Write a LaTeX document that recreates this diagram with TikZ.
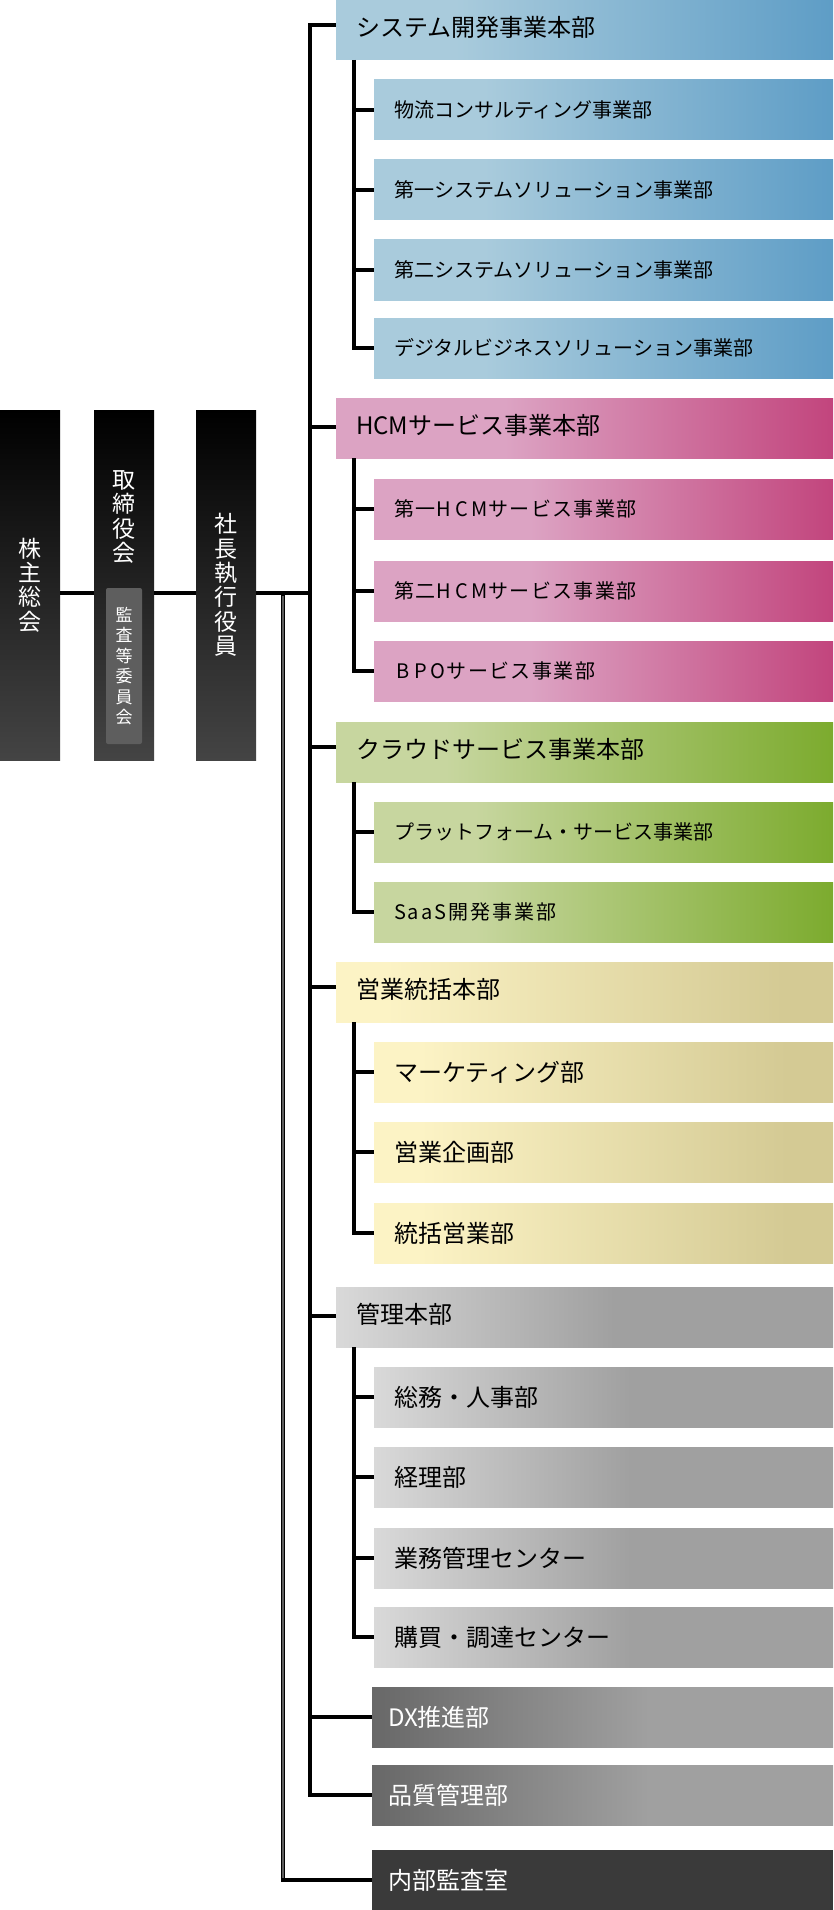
\documentclass[tikz,border=0pt]{standalone}
\usepackage{fontspec}
\setmainfont{Noto Sans CJK JP}
\usetikzlibrary{calc}

\definecolor{blueL}{HTML}{A9CBDC}
\definecolor{blueR}{HTML}{5E9DC6}
\definecolor{pinkL}{HTML}{DCA3C3}
\definecolor{pinkR}{HTML}{C2457D}
\definecolor{greenL}{HTML}{C7D69F}
\definecolor{greenR}{HTML}{7CAB2E}
\definecolor{yellowL}{HTML}{FCF3C5}
\definecolor{yellowR}{HTML}{D4CA94}
\definecolor{grayL}{HTML}{D9D9D9}
\definecolor{grayR}{HTML}{A0A0A0}
\definecolor{dxL}{HTML}{686868}
\definecolor{dxR}{HTML}{A0A0A0}
\definecolor{naibuC}{HTML}{3A3A3A}
\definecolor{leftBot}{HTML}{444444}
\definecolor{kansaC}{HTML}{5E5E5E}
\definecolor{outerMid}{HTML}{5C5C5C}

\pgfdeclarehorizontalshading{shblue}{100bp}{color(0bp)=(blueL); color(37bp)=(blueL); color(75bp)=(blueR); color(100bp)=(blueR)}
\pgfdeclarehorizontalshading{shpink}{100bp}{color(0bp)=(pinkL); color(42bp)=(pinkL); color(75bp)=(pinkR); color(100bp)=(pinkR)}
\pgfdeclarehorizontalshading{shgreen}{100bp}{color(0bp)=(greenL); color(36bp)=(greenL); color(75bp)=(greenR); color(100bp)=(greenR)}
\pgfdeclarehorizontalshading{shyellow}{100bp}{color(0bp)=(yellowL); color(30bp)=(yellowL); color(70bp)=(yellowR); color(100bp)=(yellowR)}
\pgfdeclarehorizontalshading{shgray}{100bp}{color(0bp)=(grayL); color(25bp)=(grayL); color(53bp)=(grayR); color(100bp)=(grayR)}
\pgfdeclarehorizontalshading{shdx}{100bp}{color(0bp)=(dxL); color(25bp)=(dxL); color(55bp)=(dxR); color(100bp)=(dxR)}

\newcommand\fwl[1]{\makebox[0.88em]{#1}}

\tikzset{
  box/.style={anchor=north west, minimum height=60pt, inner ysep=0pt,
    inner xsep=20pt, align=left, outer sep=0pt},
  hqbox/.style={box, minimum width=497pt, text width=457pt,
    font=\fontsize{24}{28}\selectfont, text height=18pt, text depth=5.8pt},
  subbox/.style={box, minimum width=459pt, text width=419pt,
    font=\fontsize{20}{24}\selectfont, text height=17pt, text depth=1.8pt},
  subbig/.style={box, minimum width=459pt, text width=419pt,
    font=\fontsize{24}{28}\selectfont, text height=20pt, text depth=1.8pt},
  solobox/.style={box, minimum width=461pt, text width=429pt, inner xsep=16pt,
    font=\fontsize{24}{28}\selectfont, text height=20pt, text depth=1.8pt, text=white},
  leftbox/.style={minimum width=60pt, minimum height=350pt, inner sep=0pt,
    top color=black, bottom color=leftBot, text=white, align=center,
    font=\fontsize{23}{24.3}\selectfont},
  conn/.style={line width=3.5pt, black},
}

\begin{document}
\begin{tikzpicture}[x=1pt, y=-1pt]
\useasboundingbox (0,0) rectangle (833,1910);
\fill[white] (0,0) rectangle (833,1910);

% left column
\node[leftbox] (kabu) at (30,585) {株\\主\\総\\会};
\node[leftbox] (tori) at (124,585) {};
\node[text=white, align=center, inner sep=0pt, font=\fontsize{23}{24.3}\selectfont] (toriT) at (124,517) {取\\締\\役\\会};
\node[fill=kansaC, rounded corners=2pt, minimum width=36pt, minimum height=156pt, inner sep=0pt,
  text=white, align=center, font=\fontsize{17}{20.4}\selectfont] (kansa) at (124,666) {監\\査\\等\\委\\員\\会};
\node[leftbox] (pres) at (226,585) {社\\長\\執\\行\\役\\員};

% system group
\node[hqbox, shading=shblue] (sys) at (336,0) {システム開発事業本部};
\node[subbox, shading=shblue] (sys1) at (374,80) {物流コンサルティング事業部};
\node[subbox, shading=shblue] (sys2) at (374,160) {第一システムソリューション事業部};
\node[subbox, shading=shblue] (sys3) at (374,240) {第二システムソリューション事業部};
\node[subbox, shading=shblue] (sys4) at (374,318) {デジタルビジネスソリューション事業部};

% HCM group
\node[hqbox, shading=shpink] (hcm) at (336,398) {HCMサービス事業本部};
\node[subbox, shading=shpink] (hcm1) at (374,479) {\addfontfeature{LetterSpace=7}第一\fwl{H}\fwl{C}\fwl{M}サービス事業部};
\node[subbox, shading=shpink] (hcm2) at (374,561) {\addfontfeature{LetterSpace=7}第二\fwl{H}\fwl{C}\fwl{M}サービス事業部};
\node[subbox, shading=shpink] (hcm3) at (374,641) {\addfontfeature{LetterSpace=7}\fwl{B}\fwl{P}\fwl{O}サービス事業部};

% cloud group
\node[hqbox, shading=shgreen] (cld) at (336,722) {クラウドサービス事業本部};
\node[subbox, shading=shgreen] (cld1) at (374,802) {プラットフォーム・サービス事業部};
\node[subbox, shading=shgreen] (cld2) at (374,882) {\addfontfeature{LetterSpace=10}SaaS開発事業部};

% sales group
\node[hqbox, shading=shyellow] (eig) at (336,962) {営業統括本部};
\node[subbig, shading=shyellow] (eig1) at (374,1042) {マーケティング部};
\node[subbig, shading=shyellow] (eig2) at (374,1122) {営業企画部};
\node[subbig, shading=shyellow] (eig3) at (374,1203) {統括営業部};

% admin group
\node[hqbox, shading=shgray] (kan) at (336,1287) {管理本部};
\node[subbig, shading=shgray] (kan1) at (374,1367) {総務・人事部};
\node[subbig, shading=shgray] (kan2) at (374,1447) {経理部};
\node[subbig, shading=shgray] (kan3) at (374,1528) {業務管理センター};
\node[subbig, shading=shgray] (kan4) at (374,1607) {購買・調達センター};

% standalone departments
\node[solobox, shading=shdx] (dx) at (372,1687) {DX推進部};
\node[solobox, shading=shdx] (qa) at (372,1765) {品質管理部};
\node[solobox, fill=naibuC] (naibu) at (372,1850) {内部監査室};

% junction points
\coordinate (sj) at (310,593);
\coordinate (aj) at (283,593);

% top row
\draw[conn] ([yshift=-8pt]kabu.east) -- ([yshift=-8pt]tori.west);
\draw[conn] ([yshift=-8pt]tori.east) -- ([yshift=-8pt]pres.west);
\draw[conn] ([yshift=-8pt]pres.east) -- (sj);

% audit line
\draw[line width=4pt, black] (aj) |- (naibu.west);
\draw[line width=1.2pt, outerMid] ([yshift=-3pt]aj) -- ([yshift=2pt]aj |- naibu.west);

% main spine
\draw[conn] ([yshift=-25pt]sys.north west) -- ++(-26,0) |- (qa.west);
\draw[conn] ([yshift=-29pt]hcm.north west) -- ++(-26,0);
\draw[conn] ([yshift=-25pt]cld.north west) -- ++(-26,0);
\draw[conn] ([yshift=-25pt]eig.north west) -- ++(-26,0);
\draw[conn] ([yshift=-29pt]kan.north west) -- ++(-26,0);
\draw[conn] (dx.west) -- ++(-62,0);

% sub spines
\draw[conn] ([xshift=18pt]sys.south west) |- (sys4.west);
\draw[conn] (sys1.west) -- ++(-20,0);
\draw[conn] (sys2.west) -- ++(-20,0);
\draw[conn] (sys3.west) -- ++(-20,0);

\draw[conn] ([xshift=18pt]hcm.south west) |- (hcm3.west);
\draw[conn] (hcm1.west) -- ++(-20,0);
\draw[conn] (hcm2.west) -- ++(-20,0);

\draw[conn] ([xshift=18pt]cld.south west) |- (cld2.west);
\draw[conn] (cld1.west) -- ++(-20,0);

\draw[conn] ([xshift=18pt]eig.south west) |- (eig3.west);
\draw[conn] (eig1.west) -- ++(-20,0);
\draw[conn] (eig2.west) -- ++(-20,0);

\draw[conn] ([xshift=18pt]kan.south west) |- (kan4.west);
\draw[conn] (kan1.west) -- ++(-20,0);
\draw[conn] (kan2.west) -- ++(-20,0);
\draw[conn] (kan3.west) -- ++(-20,0);
\end{tikzpicture}
\end{document}
